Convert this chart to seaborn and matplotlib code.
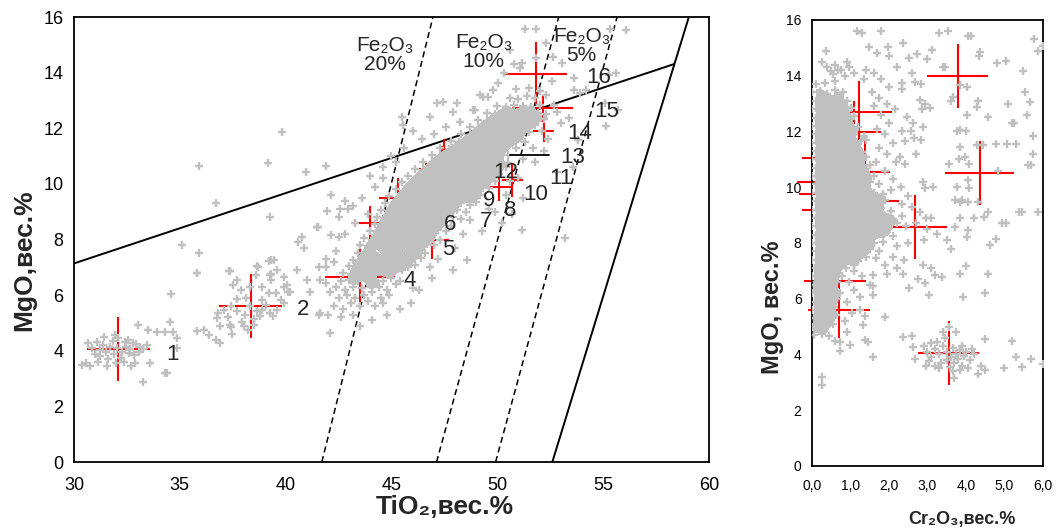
import numpy as np
import matplotlib
matplotlib.use('Agg')
import matplotlib.pyplot as plt
import seaborn as sns

# DATA

# left panel: analyses TiO2 vs MgO, grouped by where they sit on the picture
grp1_pts = [(30.36, 3.49), (30.75, 3.45), (30.68, 4.27), (31.07, 4.33), (31.4, 4.49), (31.25, 4.03),
            (31.94, 4.57), (32.4, 4.33), (32.8, 4.27), (33.1, 4.15), (33.04, 4.93), (33.5, 4.75),
            (33.9, 4.69), (34.3, 4.69), (34.7, 4.69), (34.53, 5.05), (34.6, 6.04), (34.85, 4.45),
            (34.85, 4.09), (34.3, 3.19), (34.4, 3.2), (33.27, 2.89), (32.6, 3.93), (32.2, 3.75),
            (31.55, 3.45), (32.7, 3.45), (32.9, 3.57), (31.25, 3.81), (31.5, 3.95), (31.7, 4.15),
            (31.9, 3.9), (32.05, 4.1), (32.25, 3.95), (32.45, 4.15), (32.65, 4.05), (32.85, 3.85),
            (33.05, 3.95), (33.25, 4.05), (31.6, 3.7), (31.85, 4.35), (32.1, 4.45), (32.35, 3.6),
            (32.55, 4.4), (32.95, 4.25), (31.35, 4.2), (31.0, 3.9), (30.85, 4.1), (33.45, 4.2),
            (33.6, 3.55), (30.55, 3.55), (31.15, 3.6), (32.0, 3.55)]

grp2_pts = [(35.83, 6.81), (37.34, 6.88), (38.71, 7.02), (39.26, 6.73), (38.6, 6.73), (37.5, 6.37),
            (37.9, 6.2), (38.15, 5.89), (37.7, 5.85), (36.82, 5.35), (36.75, 5.17), (37.3, 5.23),
            (37.35, 4.93), (36.14, 4.75), (36.4, 4.56), (36.7, 4.4), (36.9, 4.27), (37.4, 4.86),
            (37.48, 4.6), (38.05, 4.89), (38.5, 5.13), (38.8, 5.25), (39.26, 5.35), (39.6, 5.47),
            (39.9, 5.71), (38.65, 5.43), (37.7, 5.43), (38.3, 5.6), (38.9, 5.83), (39.2, 6.07),
            (39.55, 6.07), (40.1, 6.13), (39.9, 6.3), (38.9, 6.3), (38.3, 6.3), (37.7, 6.55),
            (39.3, 6.55), (39.9, 6.66), (39.6, 6.9), (37.4, 5.6), (37.1, 5.47), (37.95, 5.05),
            (38.5, 4.93), (38.2, 4.75), (38.9, 5.47), (39.05, 5.65), (39.4, 5.25), (38.1, 5.3),
            (41.62, 6.55), (41.9, 6.45), (41.15, 6.13), (40.99, 6.55), (40.05, 6.37), (40.2, 6.1),
            (39.8, 5.83), (40.52, 6.9), (41.62, 5.35), (42.1, 4.64), (36.9, 4.9), (35.8, 4.7)]

band_pts = [
    (42.3, 5.6), (42.7, 5.5), (43.1, 5.7), (43.5, 5.6), (43.9, 5.8), (44.2, 5.6), (42.5, 5.9), (42.9, 6.0),
    (43.3, 5.9), (43.7, 6.0), (44.1, 6.1), (44.5, 5.9), (44.9, 6.0), (42.1, 6.1), (42.0, 5.3), (42.6, 5.2),
    (43.2, 5.3), (44.6, 5.7),
    (42.4, 6.3), (42.8, 6.2), (43.2, 6.3), (43.6, 6.25), (44.0, 6.35), (44.4, 6.3), (44.8, 6.2), (45.2, 6.4),
    (42.6, 6.5), (43.0, 6.55), (43.4, 6.5), (43.8, 6.6), (44.2, 6.55), (44.6, 6.5), (45.0, 6.6), (45.4, 6.5),
    (42.7, 6.8), (43.1, 6.75), (43.5, 6.85), (43.9, 6.8), (44.3, 6.9), (44.7, 6.8), (45.1, 6.85), (45.5, 6.9),
    (43.0, 7.05), (43.4, 7.0), (43.8, 7.1), (44.2, 7.05), (44.6, 7.0), (45.0, 7.1), (45.4, 7.05), (45.8, 7.0),
    (46.1, 7.1),
    (43.2, 7.25), (43.6, 7.3), (44.0, 7.2), (44.4, 7.3), (44.8, 7.25), (45.2, 7.35), (45.6, 7.25), (46.0, 7.3),
    (46.4, 7.35), (43.4, 7.5), (43.8, 7.55), (44.2, 7.5), (44.6, 7.6), (45.0, 7.5), (45.4, 7.55), (45.8, 7.5),
    (46.2, 7.6), (46.6, 7.5),
    (43.5, 7.8), (43.9, 7.75), (44.3, 7.85), (44.7, 7.8), (45.1, 7.75), (45.5, 7.85), (45.9, 7.8), (46.3, 7.75),
    (46.7, 7.85), (47.0, 7.8), (43.7, 8.05), (44.1, 8.0), (44.5, 8.1), (44.9, 8.05), (45.3, 8.0), (45.7, 8.1),
    (46.1, 8.05), (46.5, 8.0), (46.9, 8.1), (47.3, 8.0),
    (44.0, 8.3), (44.4, 8.25), (44.8, 8.35), (45.2, 8.3), (45.6, 8.25), (46.0, 8.35), (46.4, 8.3), (46.8, 8.25),
    (47.2, 8.35), (47.6, 8.3), (44.2, 8.55), (44.6, 8.5), (45.0, 8.6), (45.4, 8.55), (45.8, 8.5), (46.2, 8.6),
    (46.6, 8.55), (47.0, 8.5), (47.4, 8.6), (47.8, 8.5),
    (44.3, 8.8), (44.7, 8.75), (45.1, 8.85), (45.5, 8.8), (45.9, 8.75), (46.3, 8.85), (46.7, 8.8), (47.1, 8.75),
    (47.5, 8.85), (47.9, 8.8), (48.3, 8.75), (48.7, 8.7), (44.5, 9.05), (44.9, 9.0), (45.3, 9.1), (45.7, 9.05),
    (46.1, 9.0), (46.5, 9.1), (46.9, 9.05), (47.3, 9.0), (47.7, 9.1), (48.1, 9.05), (48.5, 9.0),
    (44.7, 9.3), (45.1, 9.25), (45.5, 9.35), (45.9, 9.3), (46.3, 9.25), (46.7, 9.35), (47.1, 9.3), (47.5, 9.25),
    (47.9, 9.35), (48.3, 9.3), (48.7, 9.25), (49.0, 9.35), (44.9, 9.55), (45.3, 9.5), (45.7, 9.6), (46.1, 9.55),
    (46.5, 9.5), (46.9, 9.6), (47.3, 9.55), (47.7, 9.5), (48.1, 9.6), (48.5, 9.55), (48.9, 9.5), (49.2, 9.6),
    (45.2, 9.8), (45.6, 9.75), (46.0, 9.85), (46.4, 9.8), (46.8, 9.75), (47.2, 9.85), (47.6, 9.8), (48.0, 9.75),
    (48.4, 9.85), (48.8, 9.8), (49.2, 9.75), (49.6, 9.85), (45.5, 10.05), (45.9, 10.0), (46.3, 10.1),
    (46.7, 10.05), (47.1, 10.0), (47.5, 10.1), (47.9, 10.05), (48.3, 10.0), (48.7, 10.1), (49.1, 10.05),
    (49.5, 10.0), (49.9, 10.1),
    (45.8, 10.3), (46.2, 10.25), (46.6, 10.35), (47.0, 10.3), (47.4, 10.25), (47.8, 10.35), (48.2, 10.3),
    (48.6, 10.25), (49.0, 10.35), (49.4, 10.3), (49.8, 10.25), (50.1, 10.35), (46.1, 10.55), (46.5, 10.5),
    (46.9, 10.6), (47.3, 10.55), (47.7, 10.5), (48.1, 10.6), (48.5, 10.55), (48.9, 10.5), (49.3, 10.6),
    (49.7, 10.55), (50.1, 10.5), (50.4, 10.6),
    (46.5, 10.8), (46.9, 10.75), (47.3, 10.85), (47.7, 10.8), (48.1, 10.75), (48.5, 10.85), (48.9, 10.8),
    (49.3, 10.75), (49.7, 10.85), (50.1, 10.8), (50.5, 10.75), (46.9, 11.05), (47.3, 11.0), (47.7, 11.1),
    (48.1, 11.05), (48.5, 11.0), (48.9, 11.1), (49.3, 11.05), (49.7, 11.0), (50.1, 11.1), (50.5, 11.05),
    (47.3, 11.3), (47.7, 11.25), (48.1, 11.35), (48.5, 11.3), (48.9, 11.25), (49.3, 11.35), (49.7, 11.3),
    (50.1, 11.25), (50.5, 11.35), (50.9, 11.3), (47.8, 11.55), (48.2, 11.5), (48.6, 11.6), (49.0, 11.55),
    (49.4, 11.5), (49.8, 11.6), (50.2, 11.55), (50.6, 11.5), (51.0, 11.6), (51.3, 11.5),
    (48.3, 11.8), (48.7, 11.75), (49.1, 11.85), (49.5, 11.8), (49.9, 11.75), (50.3, 11.85), (50.7, 11.8),
    (51.1, 11.75), (51.5, 11.85), (48.7, 12.05), (49.1, 12.0), (49.5, 12.1), (49.9, 12.05), (50.3, 12.0),
    (50.7, 12.1), (51.1, 12.05), (51.5, 12.0), (51.8, 12.1),
    (49.1, 12.3), (49.5, 12.25), (49.9, 12.35), (50.3, 12.3), (50.7, 12.25), (51.1, 12.35), (51.5, 12.3),
    (51.9, 12.25), (52.2, 12.35), (49.5, 12.55), (49.9, 12.5), (50.3, 12.6), (50.7, 12.55), (51.1, 12.5),
    (51.5, 12.6), (51.9, 12.55), (52.3, 12.5),
    (50.0, 12.8), (50.4, 12.75), (50.8, 12.85), (51.2, 12.8), (51.6, 12.75), (52.0, 12.85), (50.6, 13.1),
    (51.0, 13.05), (51.4, 13.15), (51.8, 13.1), (50.9, 13.4), (51.5, 13.45), (52.0, 13.35)]

halo_pts = [
    (35.9, 10.66), (39.81, 11.88), (39.18, 10.74), (41.89, 10.66), (40.96, 10.44), (36.71, 9.33),
    (39.26, 8.81), (35.09, 7.81), (35.9, 7.53), (42.14, 9.6), (41.97, 9.03), (42.57, 9.09), (42.96, 9.09),
    (42.52, 8.8), (41.51, 8.45), (42.14, 8.16), (42.52, 8.1), (40.76, 8.1), (40.86, 7.69), (40.6, 7.9),
    (39.3, 7.27), (39.45, 7.27), (41.9, 7.31), (41.6, 7.0), (35.8, 6.81), (37.37, 6.88), (38.66, 7.05),
    (39.23, 7.24), (39.29, 6.75), (41.49, 8.46),
    (44.2, 9.9), (43.6, 9.5), (42.8, 9.4), (43.2, 9.2), (44.0, 10.3), (44.6, 10.6), (45.0, 11.0), (45.6, 11.3),
    (45.56, 12.12), (45.48, 12.42), (46.42, 11.6), (47.13, 12.9), (48.08, 12.9), (47.6, 12.06), (48.23, 12.24),
    (48.94, 12.66), (49.57, 13.14), (49.18, 13.2), (46.8, 12.4), (44.6, 10.2), (43.9, 8.9), (43.3, 8.6),
    (42.8, 8.2), (42.4, 7.6), (41.9, 7.0), (42.3, 7.2), (45.2, 10.8), (46.0, 11.9), (47.0, 11.8),
    (47.44, 12.96), (47.9, 12.6), (48.86, 12.66), (49.33, 13.14), (49.8, 13.38), (50.05, 13.62),
    (50.3, 14.0), (50.8, 14.3), (51.3, 15.57), (51.85, 15.57), (50.6, 14.8), (51.15, 14.34), (51.07, 14.16),
    (51.85, 14.52), (52.3, 15.06), (52.64, 14.58), (53.04, 14.34), (53.62, 13.8), (54.17, 13.38),
    (55.3, 13.9), (55.7, 12.66), (55.1, 12.9), (53.4, 12.37), (52.7, 12.84), (53.63, 13.36), (53.9, 13.26),
    (55.63, 13.98), (56.07, 15.54), (55.32, 15.57), (52.6, 13.7), (52.3, 13.2), (52.8, 12.6),
    (51.15, 8.35), (53.19, 8.04), (50.7, 8.9), (50.4, 9.6), (51.2, 9.5), (51.0, 10.2), (51.8, 10.8),
    (52.4, 11.6), (52.8, 10.44), (53.6, 10.62), (53.8, 11.58), (53.0, 12.2), (55.13, 12.09), (52.2, 11.2),
    (48.55, 7.27), (48.0, 7.7), (47.9, 6.9), (46.9, 6.6), (46.3, 6.2), (46.0, 6.26), (45.9, 5.7), (45.4, 5.5),
    (44.8, 5.3), (44.1, 5.1), (43.5, 4.9), (41.6, 5.3), (49.3, 8.3), (49.9, 9.0), (50.2, 8.6), (51.7, 11.3),
    (52.1, 11.9), (48.4, 8.2), (49.6, 9.1), (50.6, 10.1), (51.2, 10.9), (47.2, 7.3), (46.8, 7.0)]

# mean +- spread of the numbered groups on the left panel
grp_ti = [32.1, 38.35, 43.5, 45.2, 46.9, 44.0, 45.3, 47.4, 48.2, 50.1, 50.7, 47.5, 52.2, 52.15, 51.82]
grp_ti_err = [1.5, 1.5, 1.65, 1.5, 0.8, 0.8, 0.9, 1.3, 0.8, 0.6, 0.5, 0.9, 0.5, 1.45, 1.45]
grp_mg = [4.05, 5.6, 6.65, 7.77, 8.0, 8.6, 9.5, 10.55, 11.05, 9.9, 10.14, 10.7, 11.9, 12.72, 13.94]
grp_mg_err = [1.15, 1.15, 1.15, 0.75, 0.7, 0.6, 0.7, 0.8, 0.6, 0.5, 0.6, 0.9, 0.4, 0.5, 1.15]

# boundary lines of the TiO2-MgO diagram
line_a_ti, line_a_mg = [30.0, 58.32], [7.14, 14.3]
line_b_ti, line_b_mg = [52.6, 59.05], [0.0, 16.0]
fe_lines_ti = [[41.71, 46.96], [47.13, 52.9], [49.92, 55.66]]
fe_lines_mg = [0.0, 16.0]
fe_labels = ['Fe₂O₃\n20%', 'Fe₂O₃\n10%', 'Fe₂O₃\n5%']
fe_label_ti = [44.67, 49.36, 53.98]
fe_label_mg = [14.62, 14.73, 14.96]
mark13_ti, mark13_mg = [50.6, 52.45], [11.04, 11.04]

num_labels = ['1', '2', '4', '5', '6', '7', '8', '9', '10', '11', '12', '13', '14', '15', '16']
num_ti = [34.66, 40.83, 45.87, 47.68, 47.76, 49.49, 50.62, 49.6, 51.8, 53.0, 50.39, 53.57, 53.9, 55.16, 54.81]
num_mg = [3.85, 5.47, 6.52, 7.63, 8.53, 8.64, 9.06, 9.42, 9.62, 10.2, 10.4, 10.96, 11.82, 12.6, 13.84]

# right panel: Cr2O3 vs MgO
cr_core_pts = [
    (0.05, 4.7), (0.25, 4.75), (0.45, 4.65), (0.6, 4.5), (0.0, 5.0), (0.15, 5.05), (0.35, 4.95), (0.55, 5.1),
    (0.05, 5.3), (0.25, 5.35), (0.45, 5.25), (0.62, 5.4), (0.0, 5.6), (0.2, 5.65), (0.4, 5.55), (0.58, 5.7),
    (0.08, 5.9), (0.28, 5.95), (0.48, 5.85), (0.66, 6.0), (0.0, 6.2), (0.18, 6.25), (0.38, 6.15), (0.56, 6.3),
    (0.72, 6.2), (0.06, 6.5), (0.26, 6.55), (0.46, 6.45), (0.64, 6.6), (0.0, 6.8), (0.2, 6.85), (0.4, 6.75),
    (0.58, 6.9), (0.78, 6.8), (0.08, 7.1), (0.28, 7.15), (0.48, 7.05), (0.68, 7.2), (0.88, 7.1), (1.1, 7.2),
    (0.0, 7.4), (0.2, 7.45), (0.4, 7.35), (0.6, 7.5), (0.8, 7.4), (1.0, 7.45), (1.2, 7.35), (1.4, 7.5),
    (1.65, 7.45), (0.1, 7.7), (0.3, 7.75), (0.5, 7.65), (0.7, 7.8), (0.9, 7.7), (1.1, 7.75), (1.3, 7.65),
    (1.5, 7.8), (1.75, 7.7), (0.0, 8.0), (0.2, 8.05), (0.4, 7.95), (0.6, 8.1), (0.8, 8.0), (1.0, 8.05),
    (1.2, 7.95), (1.4, 8.1), (1.6, 8.0), (1.85, 8.05), (0.1, 8.3), (0.3, 8.35), (0.5, 8.25), (0.7, 8.4),
    (0.9, 8.3), (1.1, 8.35), (1.3, 8.25), (1.5, 8.4), (1.7, 8.3), (1.9, 8.35), (2.1, 8.25), (0.0, 8.6),
    (0.2, 8.65), (0.4, 8.55), (0.6, 8.7), (0.8, 8.6), (1.0, 8.65), (1.2, 8.55), (1.4, 8.7), (1.6, 8.6),
    (1.8, 8.65), (2.0, 8.55), (2.2, 8.7), (2.45, 8.6), (2.7, 8.7), (0.1, 8.9), (0.3, 8.95), (0.5, 8.85),
    (0.7, 9.0), (0.9, 8.9), (1.1, 8.95), (1.3, 8.85), (1.5, 9.0), (1.7, 8.9), (1.9, 8.95), (2.1, 8.85),
    (2.35, 8.95), (0.0, 9.2), (0.2, 9.25), (0.4, 9.15), (0.6, 9.3), (0.8, 9.2), (1.0, 9.25), (1.2, 9.15),
    (1.4, 9.3), (1.6, 9.2), (1.8, 9.25), (2.05, 9.15), (0.1, 9.5), (0.3, 9.55), (0.5, 9.45), (0.7, 9.6),
    (0.9, 9.5), (1.1, 9.55), (1.3, 9.45), (1.5, 9.6), (1.7, 9.5), (1.9, 9.55), (0.0, 9.8), (0.2, 9.85),
    (0.4, 9.75), (0.6, 9.9), (0.8, 9.8), (1.0, 9.85), (1.2, 9.75), (1.4, 9.9), (1.6, 9.8), (1.85, 9.75),
    (0.1, 10.1), (0.3, 10.15), (0.5, 10.05), (0.7, 10.2), (0.9, 10.1), (1.1, 10.15), (1.3, 10.05), (1.5, 10.2),
    (1.75, 10.1), (0.0, 10.4), (0.2, 10.45), (0.4, 10.35), (0.6, 10.5), (0.8, 10.4), (1.0, 10.45), (1.2, 10.35),
    (1.4, 10.5), (1.6, 10.4), (0.1, 10.7), (0.3, 10.75), (0.5, 10.65), (0.7, 10.8), (0.9, 10.7), (1.1, 10.75),
    (1.3, 10.65), (1.5, 10.8), (0.0, 11.0), (0.2, 11.05), (0.4, 10.95), (0.6, 11.1), (0.8, 11.0), (1.0, 11.05),
    (1.2, 10.95), (1.4, 11.1), (0.1, 11.3), (0.3, 11.35), (0.5, 11.25), (0.7, 11.4), (0.9, 11.3), (1.1, 11.35),
    (1.3, 11.25), (0.0, 11.6), (0.2, 11.65), (0.4, 11.55), (0.6, 11.7), (0.8, 11.6), (1.0, 11.65), (1.2, 11.55),
    (1.4, 11.7), (0.1, 11.9), (0.3, 11.95), (0.5, 11.85), (0.7, 12.0), (0.9, 11.9), (1.1, 11.95), (1.35, 11.85),
    (0.0, 12.2), (0.2, 12.25), (0.4, 12.15), (0.6, 12.3), (0.8, 12.2), (1.0, 12.25), (1.2, 12.15), (0.1, 12.5),
    (0.3, 12.55), (0.5, 12.45), (0.7, 12.6), (0.9, 12.5), (1.1, 12.55), (0.0, 12.8), (0.2, 12.85), (0.4, 12.75),
    (0.6, 12.9), (0.8, 12.8), (1.0, 12.85), (0.1, 13.1), (0.3, 13.15), (0.5, 13.05), (0.7, 13.2), (0.9, 13.1),
    (0.0, 13.4), (0.2, 13.45), (0.4, 13.35), (0.6, 13.5), (0.8, 13.4), (0.1, 13.7), (0.35, 13.75), (0.6, 13.8),
    (0.85, 14.0), (0.75, 14.2), (0.95, 14.3), (0.55, 14.05)]

cr_sparse_pts = [
    (1.16, 15.59), (1.29, 15.54), (1.78, 15.59), (0.36, 14.89), (1.49, 15.03), (1.97, 15.03), (2.36, 15.17),
    (2.74, 14.79), (2.52, 14.65), (3.13, 14.93), (3.3, 15.54), (3.52, 15.59), (4.06, 15.41), (4.14, 15.42),
    (4.36, 14.85), (4.33, 14.7), (4.81, 14.47), (5.03, 14.53), (5.77, 15.3), (5.88, 14.89), (6.0, 15.05),
    (5.47, 14.17), (5.53, 13.42), (5.66, 13.06), (5.58, 12.58), (5.1, 12.97), (5.19, 12.32), (5.25, 12.32),
    (5.75, 11.83), (5.29, 11.54), (5.73, 11.21), (5.62, 10.81), (5.7, 10.78), (5.38, 9.11), (5.45, 9.11),
    (5.88, 9.11), (4.94, 8.72), (5.04, 8.73), (4.78, 8.14), (4.62, 7.92), (3.41, 14.31), (3.45, 14.3),
    (3.84, 13.66), (4.02, 13.6), (3.67, 13.24), (3.62, 13.1), (4.28, 12.88), (4.3, 13.1), (4.02, 12.58),
    (4.58, 12.52), (3.84, 12.04), (3.77, 12.0), (3.99, 12.0), (4.28, 11.5), (4.45, 11.5), (4.78, 11.54),
    (5.07, 11.54), (3.84, 11.44), (3.97, 11.09), (3.83, 11.0), (3.57, 10.85), (4.08, 10.85), (4.84, 10.58),
    (4.04, 10.25), (3.76, 10.01), (4.08, 9.97), (3.15, 10.01), (2.89, 10.19), (2.94, 9.96), (3.71, 9.53),
    (3.84, 9.47), (3.9, 9.53), (4.06, 9.47), (4.3, 9.47), (4.58, 9.11), (4.46, 8.93), (4.2, 8.88),
    (3.84, 8.88), (3.71, 8.58), (4.06, 8.47), (3.5, 8.1), (4.03, 8.22), (3.6, 7.8), (3.24, 8.34), (3.09, 8.88),
    (2.33, 13.54), (2.33, 13.73), (2.68, 13.77), (2.83, 13.7), (2.81, 13.12), (2.94, 13.0), (3.06, 12.86),
    (2.86, 12.8), (2.46, 12.52), (2.62, 12.3), (2.89, 12.16), (2.33, 12.0), (2.56, 12.0), (2.65, 11.78),
    (2.84, 11.68), (2.41, 11.65), (2.29, 11.09), (2.42, 10.85), (2.69, 11.2), (2.19, 10.9),
    (1.4, 14.2), (1.6, 14.1), (1.8, 13.9), (2.0, 13.6), (1.55, 13.4), (1.75, 13.2), (1.95, 13.0), (2.15, 12.8),
    (1.6, 12.9), (1.8, 12.6), (2.0, 12.3), (1.7, 12.1), (1.9, 11.9), (2.1, 11.6), (1.75, 11.4), (1.95, 11.2),
    (1.65, 10.9), (1.9, 10.6), (2.1, 10.3), (2.3, 10.0), (2.05, 9.9), (2.5, 9.7), (2.6, 9.3), (2.35, 9.4),
    (2.8, 9.1), (2.95, 8.9), (3.0, 8.5), (2.9, 8.1), (2.5, 8.0), (2.2, 7.9), (2.1, 7.5), (2.4, 7.4),
    (1.9, 7.2), (2.2, 7.1), (0.9, 14.5), (0.6, 14.4), (1.1, 14.1), (0.4, 14.3), (0.25, 14.5), (1.35, 13.9),
    (2.2, 14.3), (2.6, 14.1), (3.0, 14.6), (2.0, 14.7), (1.7, 14.8), (0.49, 14.17), (0.68, 14.2),
    (2.37, 6.9), (2.52, 6.37), (2.75, 6.7), (2.93, 6.55), (3.2, 6.84), (3.04, 6.12), (3.38, 6.79), (3.91, 6.07),
    (3.84, 6.9), (4.5, 6.2), (4.56, 6.89), (1.95, 6.9), (1.59, 6.45), (2.88, 7.2), (3.1, 7.1), (4.0, 7.16),
    (1.25, 6.07), (1.59, 6.12), (1.5, 6.5), (1.59, 6.84), (1.9, 5.35), (1.33, 5.05), (1.37, 5.37), (1.24, 5.6),
    (0.73, 4.46), (0.99, 4.34), (0.73, 4.13), (1.38, 4.52), (1.45, 4.43), (1.59, 3.9), (2.37, 4.63),
    (2.6, 4.66), (2.62, 4.28), (2.68, 3.82), (0.25, 3.2), (0.25, 2.9), (0.95, 6.6), (1.1, 6.3), (0.9, 5.9),
    (1.05, 5.5), (0.85, 5.2), (0.9, 4.8), (1.1, 7.0), (1.3, 6.8),
    (5.2, 4.5), (5.3, 3.9), (5.0, 3.5), (5.45, 3.55), (5.7, 3.85), (6.0, 3.65)]

cr_grp1_pts = [(2.9, 4.3), (3.0, 4.1), (3.1, 3.9), (3.2, 4.2), (3.3, 4.0), (3.35, 3.7), (3.4, 4.3), (3.5, 4.1),
               (3.6, 3.9), (3.65, 4.25), (3.7, 3.7), (3.75, 4.0), (3.8, 3.85), (3.85, 4.15), (3.9, 3.6),
               (3.95, 3.95), (4.0, 4.1), (4.1, 3.8), (4.2, 4.0), (3.45, 4.6), (3.4, 4.8), (3.55, 5.0),
               (3.75, 4.8), (3.2, 3.6), (3.3, 3.5), (3.65, 3.4), (3.7, 3.15), (4.3, 3.3), (4.5, 3.45),
               (4.4, 3.6), (4.5, 4.55), (3.1, 4.4), (3.05, 3.75), (2.95, 3.6), (4.05, 3.5), (3.85, 3.45),
               (3.58, 3.55), (3.5, 3.8), (3.9, 4.3), (3.25, 4.45), (4.15, 4.2)]

# mean +- spread of the groups on the right panel
cr_grp_cr = [3.55, 0.7, 0.6, 1.0, 2.68, 0.45, 1.3, 0.15, 0.2, 1.37, 4.36, 0.3, 1.1, 1.22, 3.78]
cr_grp_cr_err = [0.8, 0.8, 0.8, 0.5, 0.82, 0.7, 0.95, 0.5, 0.6, 0.65, 0.9, 0.55, 0.7, 0.85, 0.8]
cr_grp_mg = [4.05, 5.6, 6.65, 7.8, 8.58, 9.2, 9.5, 9.75, 10.2, 10.55, 10.51, 11.05, 11.98, 12.7, 13.98]
cr_grp_mg_err = [1.15, 1.0, 1.1, 0.6, 1.15, 0.5, 0.6, 0.5, 0.6, 1.15, 1.15, 0.6, 1.1, 1.1, 1.15]

cr_tick_labels = ['0,0', '1,0', '2,0', '3,0', '4,0', '5,0', '6,0']

GREY = '#c0c0c0'
RED = '#ff0000'


def style_axes(ax, tick_size, tick_len, pad_x, pad_y):
    for side in ['left', 'right', 'top', 'bottom']:
        ax.spines[side].set_visible(True)
        ax.spines[side].set_color('black')
        ax.spines[side].set_linewidth(1.3)
    ax.tick_params(axis='both', direction='inout', length=tick_len, width=1.3,
                   labelsize=tick_size, colors='black')
    ax.tick_params(axis='x', pad=pad_x)
    ax.tick_params(axis='y', pad=pad_y)
    ax.grid(False)


def density_patch(ax, core, bw, level):
    # fills the gaps between overlapping crosses where the picture is solid grey
    core = np.array(core)
    x0, x1 = ax.get_xlim()
    y0, y1 = ax.get_ylim()
    gx, gy = np.meshgrid(np.linspace(x0, x1, 400), np.linspace(y0, y1, 400))
    dens = np.zeros_like(gx)
    for px, py in core:
        dens += np.exp(-0.5 * (((gx - px) / bw[0]) ** 2 + ((gy - py) / bw[1]) ** 2))
    ax.contourf(gx, gy, dens / dens.max(), levels=[level, 10], colors=[GREY], zorder=2.5)


def grey_cloud(ax, pts):
    pts = np.array(pts)
    sns.scatterplot(x=pts[:, 0], y=pts[:, 1], marker='+', s=34, linewidth=1.7, color=GREY,
                    ax=ax, zorder=3, legend=False)


def draw_tio2_panel(ax):
    ax.set_xlim(30, 60)
    ax.set_ylim(0, 16)
    # diagram boundaries
    ax.plot(line_a_ti, line_a_mg, color='black', lw=1.4, zorder=1)
    ax.plot(line_b_ti, line_b_mg, color='black', lw=1.4, zorder=1)
    for xs in fe_lines_ti:
        ax.plot(xs, fe_lines_mg, color='black', lw=1.1, ls=(0, (4, 2.5)), zorder=1)

    ax.errorbar(grp_ti, grp_mg, xerr=grp_ti_err, yerr=grp_mg_err, fmt='none',
                ecolor=RED, elinewidth=1.5, capsize=0, zorder=2)

    density_patch(ax, band_pts, (0.28, 0.2), 0.8)
    grey_cloud(ax, grp1_pts + grp2_pts + band_pts + halo_pts)
    ax.plot(mark13_ti, mark13_mg, color='black', lw=1.3, zorder=4)

    for txt, x, y in zip(fe_labels, fe_label_ti, fe_label_mg):
        ax.text(x, y, txt, ha='center', va='center', fontsize=15, linespacing=1.0, zorder=5)
    for txt, x, y in zip(num_labels, num_ti, num_mg):
        ax.text(x, y, txt, ha='center', va='center', fontsize=16, zorder=5)

    ax.set_xlim(30, 60)
    ax.set_ylim(0, 16)
    ax.set_xticks(range(30, 61, 5))
    ax.set_yticks(range(0, 17, 2))
    style_axes(ax, 13, 9, 6, 3)
    ax.set_xlabel('TiO₂,вес.%', fontsize=19, fontweight='bold')
    ax.set_ylabel('MgO,вес.%', fontsize=19, fontweight='bold')
    ax.xaxis.set_label_coords(0.584, -0.074)
    ax.yaxis.set_label_coords(-0.06, 0.454)


def draw_cr_panel(ax):
    ax.set_xlim(0, 6)
    ax.set_ylim(0, 16)
    ax.errorbar(cr_grp_cr, cr_grp_mg, xerr=cr_grp_cr_err, yerr=cr_grp_mg_err, fmt='none',
                ecolor=RED, elinewidth=1.5, capsize=0, zorder=2, clip_on=False)

    density_patch(ax, cr_core_pts, (0.12, 0.2), 0.8)
    grey_cloud(ax, cr_core_pts + cr_sparse_pts + cr_grp1_pts)

    ax.set_xlim(0, 6)
    ax.set_ylim(0, 16)
    ax.set_xticks(range(0, 7))
    ax.set_xticklabels(cr_tick_labels)
    ax.set_yticks(range(0, 17, 2))
    style_axes(ax, 10, 7, 6, 4)
    ax.set_xlabel('Cr₂O₃,вес.%', fontsize=13, fontweight='bold')
    ax.set_ylabel('MgO, вес.%', fontsize=17, fontweight='bold')
    ax.xaxis.set_label_coords(0.65, -0.102)
    ax.yaxis.set_label_coords(-0.121, 0.357)


if __name__ == "__main__":
    sns.set_theme(style='white')
    plt.rcParams['font.family'] = ['Liberation Sans', 'DejaVu Sans']
    plt.rcParams['axes.unicode_minus'] = False

    fig = plt.figure(figsize=(10.58, 5.30), dpi=100)
    ax1 = fig.add_axes([0.0699, 0.1283, 0.6002, 0.8396])
    ax2 = fig.add_axes([0.7675, 0.1208, 0.2183, 0.8415])

    draw_tio2_panel(ax1)
    draw_cr_panel(ax2)

    fig.savefig('out.png', dpi=100, facecolor='white')
